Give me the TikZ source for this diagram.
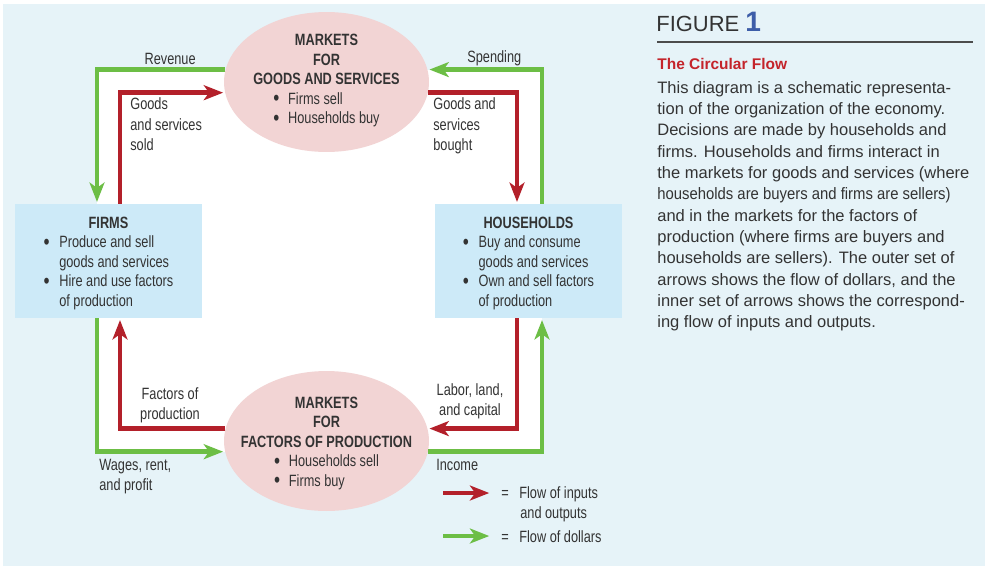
\documentclass[tikz,border=0pt]{standalone}
\usepackage{fontspec}
\setmainfont{Liberation Sans}
\newfontfamily\narrowfont[FakeStretch=0.78]{Liberation Sans}
\usepackage{xcolor}
\usetikzlibrary{arrows.meta}
\usetikzlibrary{shapes}

\definecolor{bgblue}{HTML}{E6F3F8}
\definecolor{boxblue}{HTML}{CDEAF8}
\definecolor{mktpink}{HTML}{F2D4D4}
\definecolor{flowred}{HTML}{B3202A}
\definecolor{flowgreen}{HTML}{6CBE45}
\definecolor{figblue}{HTML}{3D5DA8}
\definecolor{titlered}{HTML}{C4242B}
\definecolor{txtgray}{HTML}{333333}

\newcommand{\bul}{\raisebox{-0.15ex}{\scalebox{1.35}{\textbullet}}}

\begin{document}
\begin{tikzpicture}[x=0.02cm,y=-0.02cm,
    flow/.style={line width=2.8pt,shorten >=1pt,-{Stealth[length=11pt,width=8.5pt,inset=3pt]}},
    inout/.style={flow,draw=flowred},
    dollar/.style={flow,draw=flowgreen},
    market/.style={ellipse,fill=mktpink,minimum width=4.1cm,minimum height=2.8cm,inner sep=0pt},
    unit/.style={rectangle,fill=boxblue,minimum width=3.74cm,minimum height=2.28cm,inner sep=0pt},
    lbl/.style={font=\narrowfont\fontsize{9.3}{11.1}\selectfont,text=txtgray,inner sep=0pt},
    flowlbl/.style={font=\narrowfont\fontsize{9.3}{11.6}\selectfont,text=txtgray,inner sep=0pt}]
  \useasboundingbox (0,0) rectangle (989,572);
  \fill[bgblue] (3,4) rectangle (985,566);
  \fill[white] (97,70) rectangle (542,452);

  % markets and sectors
  \node[market] (goods) at (326.5,82) {};
  \node[market] (factors) at (326.5,441) {};
  \node[unit] (firms) at (108.5,261) {};
  \node[unit] (households) at (528.5,261) {};
  \begin{scope}[every node/.style={lbl,align=center}]
    \node (firmstext) at (108.5,264.5) {\textbf{FIRMS}\\
      \begin{tabular}[t]{@{}l@{\hspace{5.5pt}}l@{}}\bul & Produce and sell\\ & goods and services\\ \bul & Hire and use factors\\ & of production\end{tabular}};
    \node (householdstext) at (528.5,264.5) {\textbf{HOUSEHOLDS}\\
      \begin{tabular}[t]{@{}l@{\hspace{5.5pt}}l@{}}\bul & Buy and consume\\ & goods and services\\ \bul & Own and sell factors\\ & of production\end{tabular}};
    \node (goodstext) at (326.5,82) {\textbf{MARKETS}\\\textbf{FOR}\\\textbf{GOODS AND SERVICES}\\
      \begin{tabular}[t]{@{}l@{\hspace{5pt}}l@{}}\bul & Firms sell\\ \bul & Households buy\end{tabular}};
    \node (factorstext) at (326.5,444.5) {\textbf{MARKETS}\\\textbf{FOR}\\\textbf{FACTORS OF PRODUCTION}\\
      \begin{tabular}[t]{@{}l@{\hspace{5pt}}l@{}}\bul & Households sell\\ \bul & Firms buy\end{tabular}};
  \end{scope}

  % outer loop: dollars
  \draw[dollar] (goods.173) -| ([xshift=-0.23cm]firms.north);
  \draw[dollar] ([xshift=-0.23cm]firms.south) |- (factors.186);
  \draw[dollar] (factors.354) -| ([xshift=0.27cm]households.south);
  \draw[dollar] ([xshift=0.27cm]households.north) |- (goods.7);
  % inner loop: inputs and outputs
  \draw[inout] ([xshift=0.23cm]firms.north) |- (goods.186);
  \draw[inout] (goods.354) -| ([xshift=-0.23cm]households.north);
  \draw[inout] ([xshift=-0.23cm]households.south) |- (factors.7);
  \draw[inout] (factors.173) -| ([xshift=0.23cm]firms.south);

  % flow labels
  \begin{scope}[every node/.style={flowlbl}]
    \node[anchor=east] (revenue) at (196,58.5) {Revenue};
    \node[anchor=west] (spending) at (467,58.5) {Spending};
    \node[anchor=north west,align=left] (sold) at (130,97.5) {Goods\\and services\\sold};
    \node[anchor=north west,align=left] (bought) at (433,97.5) {Goods and\\services\\bought};
    \node[align=center] (factorlbl) at (170,405) {Factors of\\production};
    \node[align=center] (labor) at (470,401.5) {Labor, land,\\and capital};
    \node[anchor=north west,align=left] (wages) at (99,458.5) {Wages, rent,\\and profit};
    \node[anchor=west] (income) at (436,464.5) {Income};
  \end{scope}

  % key
  \coordinate (keyinA) at (443,493);
  \coordinate (keyinB) at (491,493);
  \coordinate (keydolA) at (443,536);
  \coordinate (keydolB) at (491,536);
  \draw[inout] (keyinA) -- (keyinB);
  \draw[dollar] (keydolA) -- (keydolB);
  \begin{scope}[every node/.style={flowlbl}]
    \node[anchor=west] (keyin) at (501,494.5) {=\hspace{6pt}Flow of inputs};
    \node[anchor=west] (keyin2) at (520,514.5) {and outputs};
    \node[anchor=west] (keydol) at (501,537) {=\hspace{6pt}Flow of dollars};
  \end{scope}

  % caption
  \node[anchor=base west,inner sep=0pt,text=black!80,font=\fontsize{12.5}{14}\selectfont] (figure) at (656,31)
    {FIGURE {\color{figblue}\bfseries\fontsize{16}{16}\selectfont 1}};
  \draw[black!70,line width=0.7pt] (657,42) -- (973,42);
  \node[anchor=west,inner sep=0pt,text=titlered,font=\bfseries\fontsize{8.8}{11}\selectfont] (title) at (657,64) {The Circular Flow};
  \node[anchor=north west,align=left,inner sep=0pt,text=txtgray,font=\fontsize{9.4}{12.14}\selectfont] (caption) at (657,81)
    {This diagram is a schematic representa-\\
     tion of the organization of the economy.\\
     Decisions are made by households and\\
     firms. Households and firms interact in\\
     the markets for goods and services (where\\
     \scalebox{0.9}[1]{households are buyers and firms are sellers)}\\
     and in the markets for the factors of\\
     production (where firms are buyers and\\
     households are sellers). The outer set of\\
     arrows shows the flow of dollars, and the\\
     inner set of arrows shows the correspond-\\
     ing flow of inputs and outputs.};
\end{tikzpicture}
\end{document}
